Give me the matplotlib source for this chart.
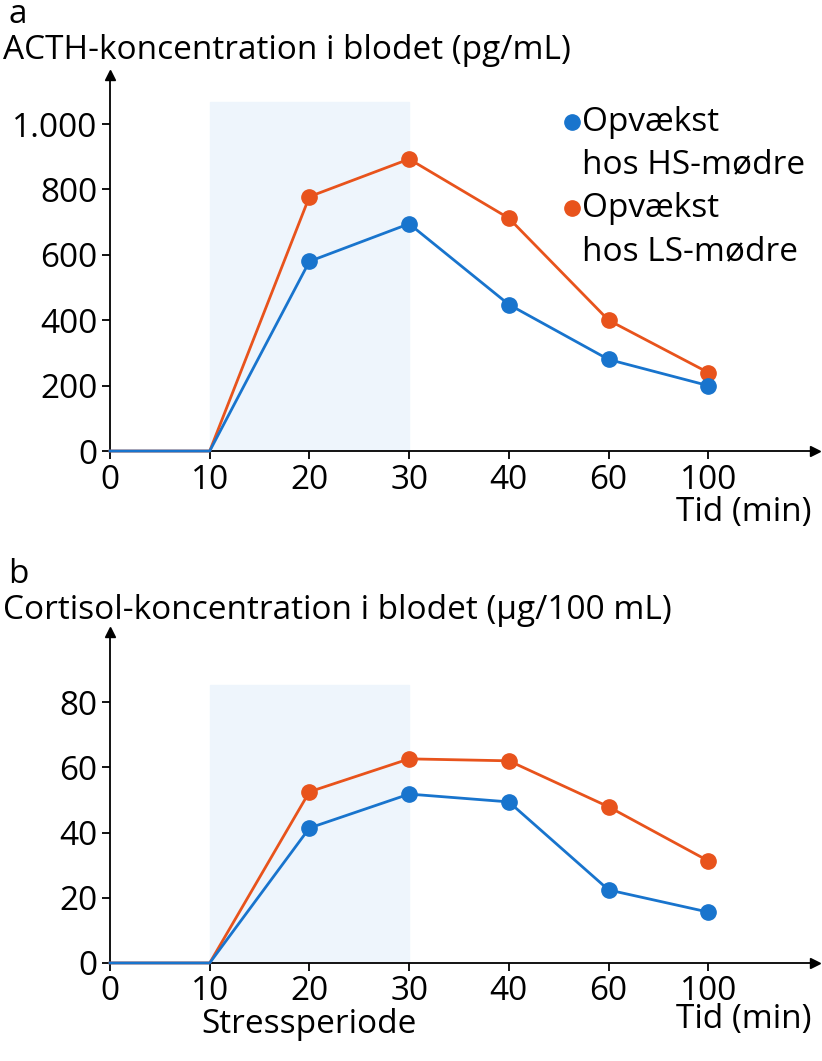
import matplotlib
matplotlib.use("Agg")
import matplotlib.pyplot as plt

times = ["0", "10", "20", "30", "40", "60", "100"]
acth_hs = [0, 0, 580, 695, 448, 280, 200]
acth_ls = [0, 0, 778, 893, 712, 400, 240]
cort_hs = [0, 0, 41.4, 51.8, 49.4, 22.4, 15.6]
cort_ls = [0, 0, 52.5, 62.6, 62.0, 47.9, 31.3]
BLUE = "#1874cd"
ORANGE = "#e8531c"
FS = 24
plt.rcParams['font.family'] = ['Open Sans', 'DejaVu Sans']

fig = plt.figure(figsize=(8.22, 10.61), dpi=100)

def panel(rect, hs, ls, ymax, shade_top, yticks, yticklabels, ylabel, letter, letter_y):
    ax = fig.add_axes(rect)
    x = list(range(len(times)))
    ax.axvspan(1, 3, ymax=shade_top / ymax, color="#eef5fc", zorder=0)
    ax.plot(x, ls, color=ORANGE, lw=2, marker="o", ms=11, markevery=list(range(2, len(x))), zorder=3, clip_on=False)
    ax.plot(x, hs, color=BLUE, lw=2, marker="o", ms=11, markevery=list(range(2, len(x))), zorder=4, clip_on=False)
    ax.set_xlim(0, 7.07)
    ax.set_ylim(0, ymax)
    ax.set_xticks(x)
    ax.set_xticklabels(times, fontsize=FS)
    ax.set_yticks(yticks)
    ax.set_yticklabels(yticklabels, fontsize=FS)
    ax.tick_params(length=6, width=1.3, pad=3)
    for s in ("top", "right"):
        ax.spines[s].set_visible(False)
    for s in ("left", "bottom"):
        ax.spines[s].set_linewidth(1.3)
    ax.plot(1, 0, ">k", transform=ax.transAxes, clip_on=False, ms=7)
    ax.plot(0, 1, "^k", transform=ax.transAxes, clip_on=False, ms=7)
    fig.text(0.010, letter_y, letter, fontsize=FS, va="top")
    fig.text(0.004, letter_y - 0.034, ylabel, fontsize=FS, va="top")
    ax.text(0.995, -0.12, "Tid (min)", transform=ax.transAxes, fontsize=FS, ha="right", va="top")
    return ax

axa = panel([0.1338, 0.5749, 0.8577, 0.3544], acth_hs, acth_ls, 1150, 1067,
            [0, 200, 400, 600, 800, 1000], ["0", "200", "400", "600", "800", "1.000"],
            "ACTH-koncentration i blodet (pg/mL)", "a", 1.002)
axb = panel([0.1338, 0.0924, 0.8577, 0.3119], cort_hs, cort_ls, 101.5, 85.3,
            [0, 20, 40, 60, 80], ["0", "20", "40", "60", "80"],
            "Cortisol-koncentration i blodet (µg/100 mL)", "b", 0.474)
axb.text(2, -0.135, "Stressperiode", transform=axb.get_xaxis_transform(), fontsize=FS, ha="center", va="top")

for yy, col, l1, l2 in [(0.875, BLUE, "Opvækst", "hos HS-mødre"), (0.645, ORANGE, "Opvækst", "hos LS-mødre")]:
    axa.plot(0.655, yy, "o", color=col, ms=11, transform=axa.transAxes, clip_on=False)
    axa.text(0.670, yy, l1, transform=axa.transAxes, fontsize=FS, va="center")
    axa.text(0.670, yy - 0.114, l2, transform=axa.transAxes, fontsize=FS, va="center")

fig.savefig("out.png", dpi=100)
